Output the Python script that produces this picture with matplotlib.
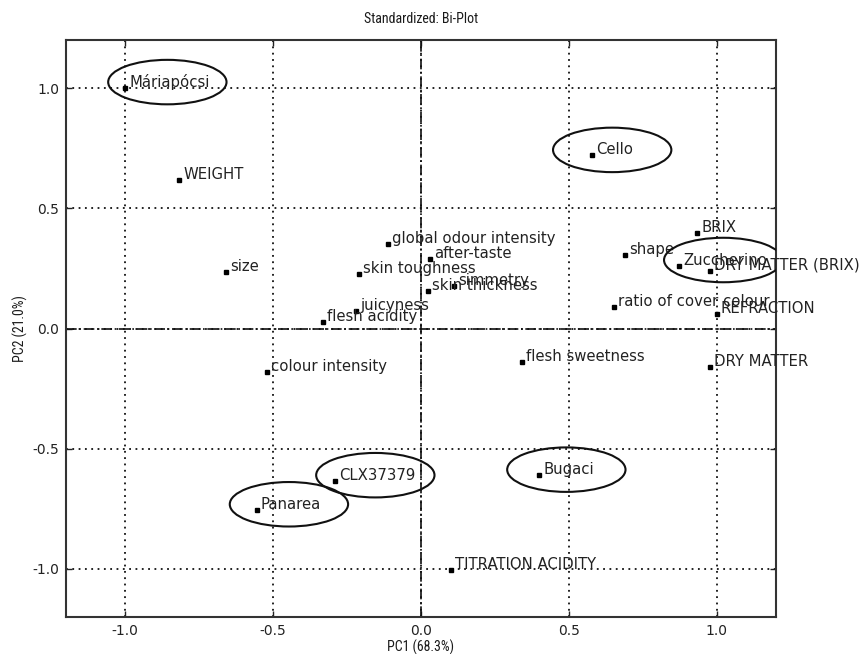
import matplotlib
matplotlib.use("Agg")
import matplotlib.pyplot as plt
from matplotlib.patches import Ellipse
from matplotlib import font_manager

# ---- data ----
samples = ["Máriapócsi", "Cello", "Zuccherino", "Bugaci", "CLX37379", "Panarea"]
sample_pc1 = [-1.0, 0.577, 0.873, 0.399, -0.29, -0.555]
sample_pc2 = [1.0, 0.72, 0.262, -0.61, -0.633, -0.754]

variables = ["WEIGHT", "size", "global odour intensity", "after-taste",
             "skin toughness", "skin thickness", "simmetry", "juicyness",
             "flesh acidity", "colour intensity", "flesh sweetness", "BRIX",
             "shape", "DRY MATTER (BRIX)", "ratio of cover colour",
             "REFRACTION", "DRY MATTER", "TITRATION ACIDITY"]
var_pc1 = [-0.818, -0.659, -0.11, 0.03, -0.21, 0.023, 0.111, -0.22,
           -0.33, -0.521, 0.34, 0.934, 0.69, 0.976, 0.652, 1.0, 0.976, 0.10]
var_pc2 = [0.617, 0.235, 0.353, 0.289, 0.226, 0.154, 0.175, 0.074,
           0.026, -0.179, -0.1375, 0.397, 0.307, 0.24, 0.0875, 0.06, -0.16, -1.005]

ticks = [-1.0, -0.5, 0.0, 0.5, 1.0]
tick_labels = ["-1.0", "-0.5", "0.0", "0.5", "1.0"]

title = "Standardized: Bi-Plot"
xlabel = "PC1 (68.3%)"
ylabel = "PC2 (21.0%)"

available = {f.name for f in font_manager.fontManager.ttflist}
narrow = [f for f in ["Liberation Sans Narrow", "DejaVu Sans Condensed", "Roboto Condensed",
                      "Open Sans Condensed", "Liberation Sans"] if f in available] + ["DejaVu Sans"]

fig = plt.figure(figsize=(8.68, 6.54), dpi=100)
ax = fig.add_axes([66 / 868, 1 - 617 / 654, (776 - 66) / 868, (617 - 40) / 654])
ax.set_xlim(-1.2, 1.2)
ax.set_ylim(-1.2, 1.2)

ax.set_xticks(ticks)
ax.set_xticklabels(tick_labels)
ax.set_yticks(ticks)
ax.set_yticklabels(tick_labels)
ax.tick_params(direction="in", length=4, width=1, labelsize=10, colors="#222222",
               top=True, right=True, pad=5)
for s in ax.spines.values():
    s.set_linewidth(1.5)
    s.set_color("#333333")

ax.grid(True, linestyle=(0, (1, 2.5)), color="#111111", linewidth=1.3)
ax.axhline(0, color="#111111", linestyle="-.", linewidth=1.2, zorder=1)
ax.axvline(0, color="#111111", linestyle="-.", linewidth=1.2, zorder=1)
ax.set_axisbelow(True)

ax.set_title(title, family=narrow, fontsize=10, pad=12, color="#1a1a1a")
ax.set_xlabel(xlabel, family=narrow, fontsize=10, labelpad=1, color="#1a1a1a")
ax.set_ylabel(ylabel, family=narrow, fontsize=10, labelpad=3, color="#1a1a1a")

txt_kw = dict(textcoords="offset pixels", xytext=(4, 1), fontsize=10.7,
              color="#222222", va="baseline", ha="left")

ax.plot(var_pc1, var_pc2, "s", color="black", markersize=2.6, linestyle="none", zorder=3)
for name, x, y in zip(variables, var_pc1, var_pc2):
    ax.annotate(name, (x, y), **txt_kw)

ax.plot(sample_pc1, sample_pc2, "s", color="black", markersize=2.6, linestyle="none", zorder=3)
sample_texts = []
for name, x, y in zip(samples, sample_pc1, sample_pc2):
    sample_texts.append(ax.annotate(name, (x, y), **txt_kw))

# ellipses drawn around each sample's dot + label
fig.canvas.draw()
renderer = fig.canvas.get_renderer()
inv = ax.transData.inverted()
for t, x, y in zip(sample_texts, sample_pc1, sample_pc2):
    bb = t.get_window_extent(renderer)
    px, py = ax.transData.transform((x, y))
    cx = (min(px, bb.x0) + bb.x1) / 2
    cy = (bb.y0 + bb.y1) / 2
    dcx, dcy = inv.transform((cx, cy))
    ax.add_patch(Ellipse((dcx, dcy), 0.40, 0.185, fill=False,
                         edgecolor="#111111", linewidth=1.5, zorder=4))

fig.savefig("out.png", dpi=100)
